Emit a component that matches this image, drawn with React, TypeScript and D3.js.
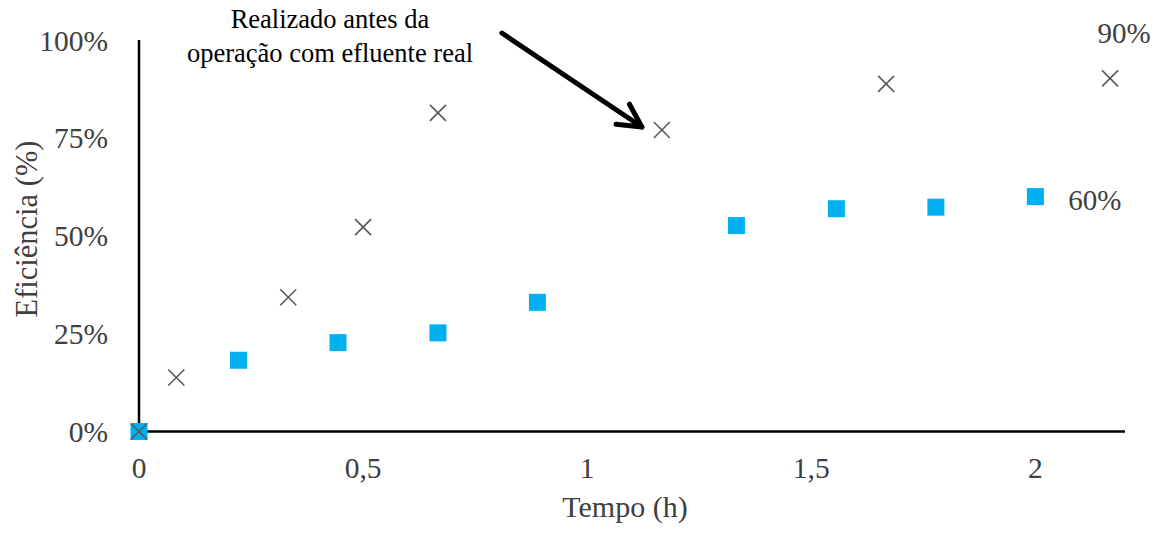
import React from "react";
import * as d3 from "d3";

const squareX = [0, 0.222, 0.444, 0.667, 0.889, 1.333, 1.556, 1.778, 2.0];
const squareY = [0, 18.2, 22.7, 25.2, 33.0, 52.6, 56.9, 57.3, 60.0];
const crossX = [0, 0.0833, 0.333, 0.5, 0.667, 1.1667, 1.667, 2.1667];
const crossY = [0, 13.8, 34.3, 52.2, 81.4, 77.0, 88.8, 90.2];
const xTicks = [0, 0.5, 1, 1.5, 2];
const yTicks = [0, 25, 50, 75, 100];
const squareLabel = "60%";
const crossLabel = "90%";
const annotation = ["Realizado antes da", "operação com efluente real"];

const W = 1164;
const H = 535;
const FONT = "'Liberation Serif', 'Times New Roman', serif";
const TXT = "#404040";

export default function App() {
  const x = d3.scaleLinear().domain([0, 2.2]).range([139, 1125]);
  const y = d3.scaleLinear().domain([0, 100]).range([431.5, 40]);
  const fmtX = (v: number) => String(v).replace(".", ",");

  const sq = 17;
  const cr = 8;

  const lastSqI = squareX.length - 1;
  const lastCrI = crossX.length - 1;

  // annotation arrow pointing at the cross at ~1.17 h
  const tipX = x(crossX[5]) - 20;
  const tipY = y(crossY[5]) - 3;
  const startX = tipX - 140;
  const startY = tipY - 94;
  const ang = Math.atan2(tipY - startY, tipX - startX);
  const armLen = 26;
  const spread = 0.48;
  const a1x = tipX - armLen * Math.cos(ang - spread);
  const a1y = tipY - armLen * Math.sin(ang - spread);
  const a2x = tipX - armLen * Math.cos(ang + spread);
  const a2y = tipY - armLen * Math.sin(ang + spread);

  return (
    <svg
      width={W}
      height={H}
      style={{ position: "absolute", left: 0, top: 0, background: "#fff" }}
      fontFamily={FONT}
    >
      {/* axes */}
      <line x1={x(0)} x2={x(0)} y1={y(100)} y2={y(0)} stroke="#000" strokeWidth={2.5} />
      <line x1={x(0)} x2={x(2.2)} y1={y(0)} y2={y(0)} stroke="#000" strokeWidth={2.5} />

      {/* y ticks */}
      {yTicks.map((t) => (
        <text key={"y" + t} x={108} y={y(t)} dy="0.36em" textAnchor="end" fontSize={29.5} fill={TXT}>
          {t + "%"}
        </text>
      ))}
      {/* x ticks */}
      {xTicks.map((t) => (
        <text key={"x" + t} x={x(t)} y={478} textAnchor="middle" fontSize={29.5} fill={TXT}>
          {fmtX(t)}
        </text>
      ))}

      {/* axis titles */}
      <text x={625} y={517} textAnchor="middle" fontSize={30} fill={TXT}>
        Tempo (h)
      </text>
      <text
        transform={`translate(37,229) rotate(-90)`}
        textAnchor="middle"
        fontSize={30.5}
        fill={TXT}
      >
        Eficiência (%)
      </text>

      {/* squares */}
      {squareX.map((v, i) => (
        <rect
          key={"s" + i}
          x={x(v) - sq / 2}
          y={y(squareY[i]) - sq / 2}
          width={sq}
          height={sq}
          fill="#00B0F0"
        />
      ))}

      {/* crosses */}
      {crossX.map((v, i) => {
        const cx = x(v);
        const cy = y(crossY[i]);
        return (
          <g key={"c" + i} stroke="#595959" strokeWidth={1.6}>
            <line x1={cx - cr} y1={cy - cr} x2={cx + cr} y2={cy + cr} />
            <line x1={cx - cr} y1={cy + cr} x2={cx + cr} y2={cy - cr} />
          </g>
        );
      })}

      {/* data labels */}
      <text x={x(squareX[lastSqI]) + 33} y={y(squareY[lastSqI]) + 13} fontSize={29} fill={TXT}>
        {squareLabel}
      </text>
      <text x={x(crossX[lastCrI]) + 14} y={y(crossY[lastCrI]) - 35} textAnchor="middle" fontSize={29} fill={TXT}>
        {crossLabel}
      </text>

      {/* annotation */}
      {annotation.map((s, i) => (
        <text key={"a" + i} x={330} y={28 + i * 34} textAnchor="middle" fontSize={26.5} fill="#000">
          {s}
        </text>
      ))}
      <g stroke="#000" strokeWidth={5} strokeLinecap="round" strokeLinejoin="round" fill="none">
        <line x1={startX} y1={startY} x2={tipX} y2={tipY} />
        <polyline points={`${a1x},${a1y} ${tipX},${tipY} ${a2x},${a2y}`} />
      </g>
    </svg>
  );
}
